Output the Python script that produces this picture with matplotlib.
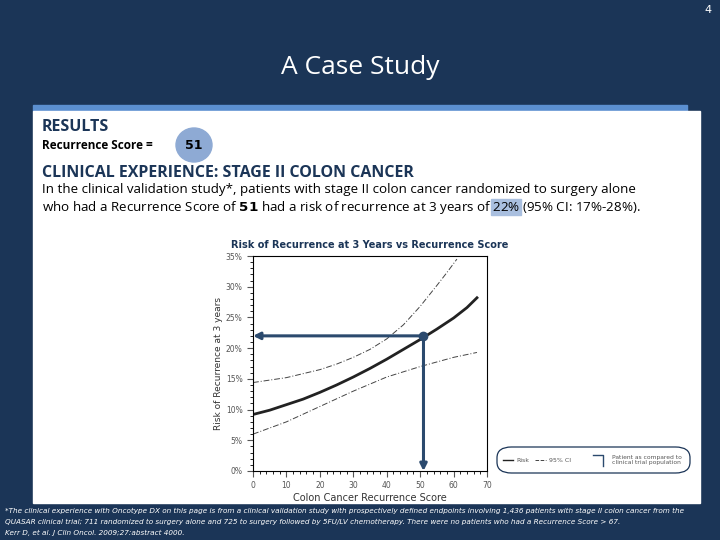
import numpy as np
import matplotlib
matplotlib.use('Agg')
import matplotlib.pyplot as plt
from matplotlib.patches import Rectangle, FancyBboxPatch, Ellipse

# curve values (score, % risk)
risk_x = [0, 5, 10, 15, 20, 25, 30, 35, 40, 45, 50, 55, 60, 64, 67]
risk_y = [9.2, 9.9, 10.8, 11.7, 12.8, 14.0, 15.3, 16.7, 18.2, 19.8, 21.4, 23.1, 24.9, 26.6, 28.2]
upper_x = [0, 10, 20, 25, 30, 35, 40, 45, 50, 55, 58, 61]
upper_y = [14.4, 15.2, 16.5, 17.4, 18.5, 19.8, 21.5, 23.8, 26.8, 30.2, 32.3, 34.5]
lower_x = [0, 10, 20, 30, 40, 50, 60, 67]
lower_y = [6.0, 8.0, 10.5, 13.0, 15.3, 17.0, 18.5, 19.3]
score, score_risk = 51, 22

navy = '#1b3557'
dark = '#2b4a6e'

fig = plt.figure(figsize=(7.2, 5.4), dpi=100)
fig.patch.set_facecolor(navy)

# slide decoration
fig.patches.append(Rectangle((33/720, 1-111/540), 654/720, 6/540, transform=fig.transFigure, color='#5b8fd0'))
fig.patches.append(Rectangle((33/720, 1-503/540), 667/720, 392/540, transform=fig.transFigure, color='white'))
fig.patches.append(Ellipse((194/720, 1-145/540), 36/720, 34/540, transform=fig.transFigure, color='#8eaad4'))
fig.patches.append(Rectangle((491/720, 1-215/540), 30/720, 16/540, transform=fig.transFigure, color='#a9bfdf'))

fig.text(708/720, 1-10/540, '4', color='white', fontsize=8, ha='center', va='center')
fig.text(0.5, 1-68/540, 'A Case Study', color='white', fontsize=19, ha='center', va='center', family='Open Sans')
fig.text(42/720, 1-127/540, 'RESULTS', color=navy, fontsize=11.5, va='center', family='Open Sans', weight='bold')
fig.text(42/720, 1-145/540, 'Recurrence Score =', color='black', fontsize=8.5, va='center', family='Open Sans', weight='bold')
fig.text(194/720, 1-145/540, '51', color='black', fontsize=9, ha='center', va='center', weight='bold')
fig.text(42/720, 1-173/540, 'CLINICAL EXPERIENCE: STAGE II COLON CANCER', color=navy, fontsize=11.5, va='center',
         family='Open Sans', weight='bold')
fig.text(42/720, 1-190/540, 'In the clinical validation study*, patients with stage II colon cancer randomized to surgery alone',
         color='black', fontsize=9.6, va='center', family='Open Sans')
fig.text(42/720, 1-207/540, 'who had a Recurrence Score of $\\bf{51}$ had a risk of recurrence at 3 years of 22% (95% CI: 17%-28%).',
         color='black', fontsize=9.6, va='center', family='Open Sans')

foot = ['*The clinical experience with Oncotype DX on this page is from a clinical validation study with prospectively defined endpoints involving 1,436 patients with stage II colon cancer from the',
        'QUASAR clinical trial; 711 randomized to surgery alone and 725 to surgery followed by 5FU/LV chemotherapy. There were no patients who had a Recurrence Score > 67.',
        'Kerr D, et al. J Clin Oncol. 2009;27:abstract 4000.']
for i, line in enumerate(foot):
    fig.text(5/720, 1-(511+11*i)/540, line, color='white', fontsize=5.2, style='italic', va='center')

ax = fig.add_axes([253/720, 1-471/540, 234/720, 215/540])
ax.set_zorder(5)
ax.plot(risk_x, risk_y, color='#222222', lw=2)
ax.plot(upper_x, upper_y, color='#444444', lw=0.7, ls=(0, (6, 2, 1, 2)))
ax.plot(lower_x, lower_y, color='#444444', lw=0.7, ls=(0, (6, 2, 1, 2)))
ax.annotate('', xy=(0, score_risk), xytext=(score, score_risk),
            arrowprops=dict(arrowstyle='-|>', color=dark, lw=2.2, mutation_scale=10, shrinkA=0, shrinkB=0))
ax.annotate('', xy=(score, 0), xytext=(score, score_risk),
            arrowprops=dict(arrowstyle='-|>', color=dark, lw=2.2, mutation_scale=10, shrinkA=0, shrinkB=0))
ax.plot([score], [score_risk], 'o', color=dark, ms=6)
ax.set_xlim(0, 70)
ax.set_ylim(0, 35)
ax.set_xticks(range(0, 71, 10))
ax.set_xticks(range(0, 71, 2), minor=True)
ax.set_yticks(range(0, 36, 5))
ax.set_yticks(range(0, 36, 1), minor=True)
ax.set_yticklabels([f'{v}%' for v in range(0, 36, 5)])
ax.tick_params(labelsize=5.5, colors='#555555', length=4)
ax.tick_params(which='minor', length=2)
for s in ax.spines.values():
    s.set_linewidth(0.8)
ax.set_xlabel('Colon Cancer Recurrence Score', fontsize=7, color='#333333', labelpad=2)
ax.set_ylabel('Risk of Recurrence at 3 years', fontsize=6.5, color='#333333', labelpad=2)
ax.set_title('Risk of Recurrence at 3 Years vs Recurrence Score', fontsize=7, color=navy, weight='bold', pad=6)

# legend box
fig.patches.append(FancyBboxPatch((497/720, 1-473/540), 193/720, 26/540, transform=fig.transFigure,
                                  boxstyle='round,pad=0,rounding_size=0.02', fc='white', ec=navy, lw=0.9))
fig.lines.append(plt.Line2D([503/720, 513/720], [1-460/540]*2, transform=fig.transFigure, color='#222222', lw=1))
fig.text(516/720, 1-460/540, 'Risk', fontsize=4.5, color='#555555', va='center')
fig.lines.append(plt.Line2D([535/720, 546/720], [1-460/540]*2, transform=fig.transFigure, color='#444444', lw=0.7, ls='--'))
fig.text(549/720, 1-460/540, '95% CI', fontsize=4.5, color='#555555', va='center')
fig.lines.append(plt.Line2D([593/720, 603/720, 603/720], [1-455/540, 1-455/540, 1-466/540], transform=fig.transFigure, color=dark, lw=1))
fig.text(612/720, 1-460/540, 'Patient as compared to\nclinical trial population', fontsize=4.3, color='#555555', va='center')

fig.savefig('out.png', dpi=100, facecolor=fig.get_facecolor())
